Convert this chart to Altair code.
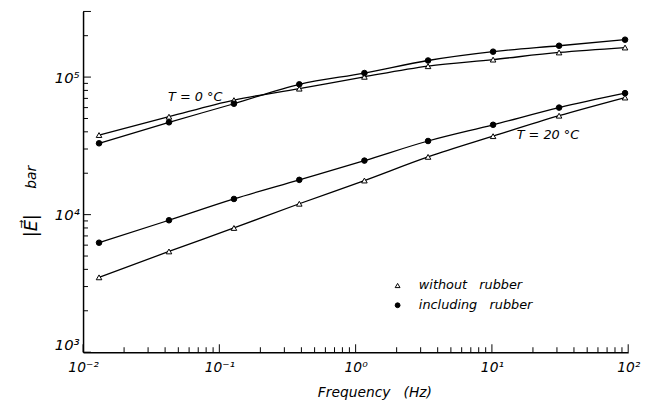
import altair as alt
import pandas as pd

# ---- data ----
freq = [0.0131, 0.0427, 0.128, 0.386, 1.16, 3.4, 10.2, 31.1, 94.8]
t0_without = [37900, 51500, 68000, 82400, 100500, 120000, 134000, 151000, 164000]
t0_including = [33000, 46900, 64000, 88600, 107000, 132000, 153000, 169000, 187000]
t20_without = [3500, 5400, 8000, 12000, 17700, 26300, 37200, 52400, 71000]
t20_including = [6250, 9100, 13000, 17900, 24700, 34300, 45000, 60000, 76400]

rubber_labels = ["without\u00a0\u00a0\u00a0rubber", "including\u00a0\u00a0\u00a0rubber"]
temps = ["T = 0°C", "T = 20°C"]

x_major = [0.01, 0.1, 1, 10, 100]
x_labels = ["10⁻²", "10⁻¹", "10⁰", "10¹", "10²"]
y_major = [1000, 10000, 100000]
y_labels = ["10³", "10⁴", "10⁵"]

ann_text = ["T = 0 °C", "T = 20 °C"]
ann_x = [0.042, 15.2]
ann_y = [71800, 37700]

W, H = 552, 345
FONT = "DejaVu Sans"

rows = []
for temp, series in [(temps[0], (t0_without, t0_including)), (temps[1], (t20_without, t20_including))]:
    for lab, vals in zip(rubber_labels, series):
        for f, v in zip(freq, vals):
            rows.append({"freq": f, "E": v, "rubber": lab, "group": temp + lab})
df = pd.DataFrame(rows)

xscale = alt.Scale(type="log", domain=[0.01, 100], nice=False)
yscale = alt.Scale(type="log", domain=[1000, 300000], nice=False)


def label_expr(vals, labs):
    expr = "''"
    for v, l in zip(reversed(vals), reversed(labs)):
        expr = f"abs(datum.value - {v}) < {v}*0.001 ? '{l}' : ({expr})"
    return expr


xaxis = alt.Axis(values=x_major, labelExpr=label_expr(x_major, x_labels), ticks=False,
                 grid=False, domainColor="black", domainWidth=1.5, labelFont=FONT,
                 labelFontSize=14, labelFontStyle="italic", labelColor="black",
                 labelPadding=9, title="Frequency\u00a0\u00a0\u00a0(Hz)", titleFont=FONT,
                 titleFontSize=14, titleFontStyle="italic", titleFontWeight="normal",
                 titleColor="black", titlePadding=11, titleX=295, labelFlush=False)
yaxis = alt.Axis(values=y_major, labelExpr=label_expr(y_major, y_labels), ticks=False,
                 grid=False, domainColor="black", domainWidth=1.5, labelFont=FONT,
                 labelFontSize=15, labelFontStyle="italic", labelColor="black",
                 labelPadding=4, title=None, labelFlush=True)

lines = alt.Chart(df).mark_line(color="black", strokeWidth=1.3, interpolate="monotone").encode(
    x=alt.X("freq:Q", scale=xscale, axis=xaxis),
    y=alt.Y("E:Q", scale=yscale, axis=yaxis),
    detail="group:N",
)

leg = alt.Legend(title=None, orient="none", legendX=312, legendY=271, symbolStrokeColor="black",
                 symbolStrokeWidth=1, symbolSize=24, labelFont=FONT, labelFontSize=13,
                 labelFontStyle="italic", labelColor="black", rowPadding=6, labelOffset=15)

points = alt.Chart(df).mark_point(strokeWidth=1, size=32, opacity=1, fillOpacity=1).encode(
    x=alt.X("freq:Q", scale=xscale, axis=xaxis),
    y=alt.Y("E:Q", scale=yscale, axis=yaxis),
    shape=alt.Shape("rubber:N", scale=alt.Scale(domain=rubber_labels, range=["triangle-up", "circle"]),
                    legend=leg),
    fill=alt.Fill("rubber:N", scale=alt.Scale(domain=rubber_labels, range=["white", "black"]),
                  legend=leg),
    stroke=alt.Stroke("rubber:N", scale=alt.Scale(domain=rubber_labels, range=["black", "black"]),
                      legend=leg),
)

ann_df = pd.DataFrame({"t": ann_text, "x": ann_x, "y": ann_y})
ann = alt.Chart(ann_df).mark_text(align="left", baseline="middle", font=FONT, fontSize=13,
                                  fontStyle="italic", color="black").encode(
    x=alt.X("x:Q", scale=xscale, axis=xaxis), y=alt.Y("y:Q", scale=yscale, axis=yaxis), text="t:N")

# tick marks drawn inward
x_minor = [k * 10 ** e for e in range(-2, 2) for k in range(2, 10)]
y_minor = [k * 10 ** e for e in range(3, 5) for k in range(2, 10)] + [200000]
y_end = [300000]


def xticks(vals, length):
    return alt.Chart(pd.DataFrame({"freq": vals})).mark_rule(color="black", strokeWidth=1).encode(
        x=alt.X("freq:Q", scale=xscale, axis=xaxis), y=alt.value(H), y2=alt.value(H - length))


def yticks(vals, length):
    return alt.Chart(pd.DataFrame({"E": vals})).mark_rule(color="black", strokeWidth=1).encode(
        y=alt.Y("E:Q", scale=yscale, axis=yaxis), x=alt.value(0), x2=alt.value(length))


ytitle1 = alt.Chart(pd.DataFrame({"t": ["|E\u20d7|"]})).mark_text(
    angle=270, font=FONT, fontSize=18, fontStyle="italic", color="black", baseline="middle").encode(
    text="t:N", x=alt.value(-52), y=alt.value(217))
ytitle2 = alt.Chart(pd.DataFrame({"t": ["bar"]})).mark_text(
    angle=270, font=FONT, fontSize=14, fontStyle="italic", color="black", baseline="middle").encode(
    text="t:N", x=alt.value(-52), y=alt.value(168))

chart = alt.layer(
    lines, points, ann,
    xticks(x_major, 8), xticks(x_minor, 5),
    yticks(y_major + y_end, 8), yticks(y_minor, 5),
    ytitle1, ytitle2,
).properties(
    width=W, height=H,
    autosize=alt.AutoSizeParams(type="none"),
    padding={"left": 76, "top": 1, "right": 16, "bottom": 52},
).configure_view(stroke=None)

chart.save("out.html", embed_options={"renderer": "svg", "actions": False})
